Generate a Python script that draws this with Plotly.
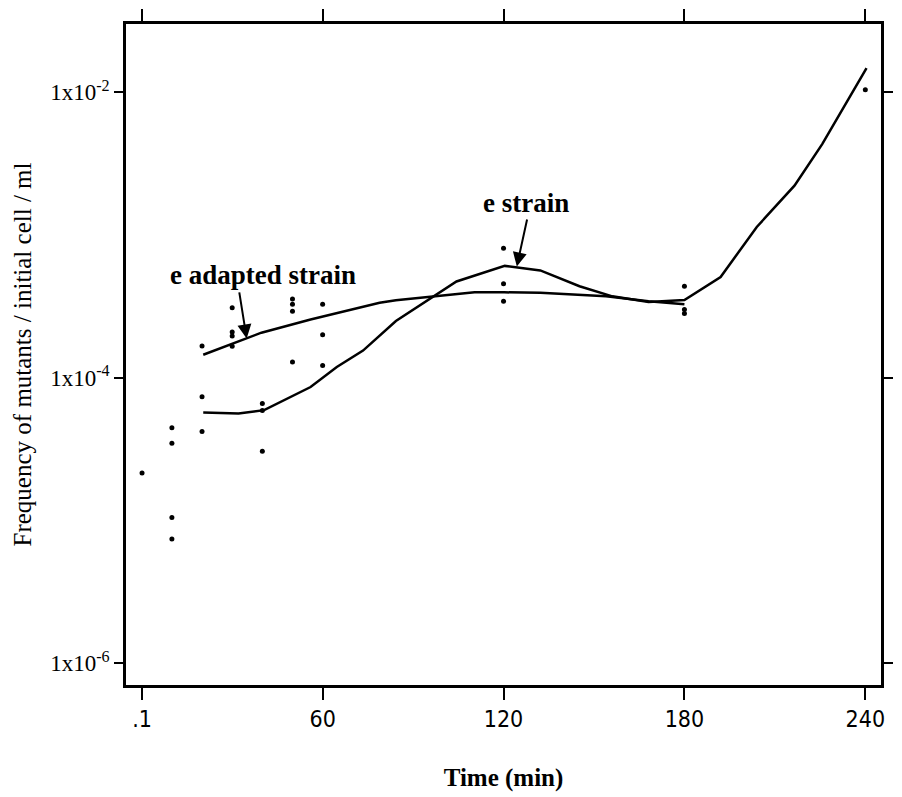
import plotly.graph_objects as go

# ---- observed data points (time in min, frequency of mutants) ----
pt_time = [0.1, 10, 10, 10, 10, 20, 20, 20, 30, 30, 30, 30, 40, 40, 40,
           50, 50, 50, 50, 60, 60, 60, 120, 120, 120, 180, 180, 180, 240]
pt_freq = [2.15e-5, 4.47e-5, 3.48e-5, 1.05e-5, 7.4e-6,
           1.67e-4, 7.35e-5, 4.2e-5,
           3.10e-4, 2.09e-4, 1.96e-4, 1.66e-4,
           6.6e-5, 5.9e-5, 3.05e-5,
           3.57e-4, 3.27e-4, 2.92e-4, 1.29e-4,
           3.28e-4, 2.0e-4, 1.22e-4,
           8.07e-4, 4.56e-4, 3.44e-4,
           4.38e-4, 3.01e-4, 2.82e-4,
           1.045e-2]

# ---- smoothed curve: e strain ----
e_time = [20.4, 32.1, 40.6, 56, 64.7, 73.4, 84.3, 104.4, 120.4, 132.2, 145.2,
          156.1, 168.1, 180.0, 192.0, 204.0, 216.5, 225.7, 240.4]
e_freq = [5.71e-5, 5.62e-5, 5.93e-5, 8.61e-5, 1.19e-4, 1.55e-4, 2.50e-4,
          4.73e-4, 6.08e-4, 5.65e-4, 4.38e-4, 3.72e-4, 3.39e-4, 3.50e-4,
          5.08e-4, 1.14e-3, 2.22e-3, 4.34e-3, 1.48e-2]

# ---- smoothed curve: e adapted strain ----
ea_time = [20.4, 39.7, 56, 68, 78.9, 84.3, 96.3, 110.4, 120.2, 132.2, 154,
           168.1, 180.0]
ea_freq = [1.45e-4, 2.07e-4, 2.56e-4, 2.93e-4, 3.35e-4, 3.49e-4, 3.72e-4,
           3.97e-4, 3.97e-4, 3.94e-4, 3.72e-4, 3.44e-4, 3.27e-4]

x_tickvals = [0.1, 60, 120, 180, 240]
x_ticktext = [".1", "60", "120", "180", "240"]
y_tickvals = [1e-6, 1e-4, 1e-2]
y_ticktext = ["1x10<sup>-6</sup>", "1x10<sup>-4</sup>", "1x10<sup>-2</sup>"]

SERIF = "Liberation Serif, Times New Roman, serif"
NARROW = "Liberation Sans Narrow, DejaVu Sans Condensed, Liberation Sans, sans-serif"

fig = go.Figure()
fig.add_trace(go.Scatter(x=ea_time, y=ea_freq, mode="lines",
                         line=dict(color="black", width=2.5), showlegend=False))
fig.add_trace(go.Scatter(x=e_time, y=e_freq, mode="lines",
                         line=dict(color="black", width=2.5), showlegend=False))
fig.add_trace(go.Scatter(x=pt_time, y=pt_freq, mode="markers",
                         marker=dict(color="black", size=5), showlegend=False))

fig.update_layout(
    width=902, height=797,
    margin=dict(l=126, r=9, t=23, b=108),
    paper_bgcolor="white", plot_bgcolor="white",
    font=dict(family=SERIF, color="black", size=25),
    xaxis=dict(range=[-5.22, 245.2], tickvals=x_tickvals, ticktext=x_ticktext,
               ticks="outside", ticklen=12, tickwidth=2, tickcolor="black",
               showline=True, linewidth=2.5, linecolor="black", mirror="ticks",
               showgrid=False, zeroline=False,
               tickfont=dict(family=NARROW, size=23),
               title=dict(text="<b>Time (min)</b>", font=dict(family=SERIF, size=25),
                          standoff=38)),
    yaxis=dict(type="log", range=[-6.153, -1.521], tickvals=y_tickvals,
               ticktext=y_ticktext,
               ticks="outside", ticklen=9, tickwidth=2, tickcolor="black",
               showline=True, linewidth=2.5, linecolor="black", mirror="ticks",
               showgrid=False, zeroline=False,
               tickfont=dict(family=SERIF, size=23),
               title=dict(text="Frequency of mutants / initial cell / ml",
                          font=dict(family=SERIF, size=25), standoff=12)),
    annotations=[
        dict(x=40.2, y=-3.281, xref="x", yref="y", text="<b>e adapted strain</b>",
             showarrow=False, font=dict(family=SERIF, size=27),
             xanchor="center", yanchor="middle"),
        dict(x=127.6, y=-2.775, xref="x", yref="y", text="<b>e strain</b>",
             showarrow=False, font=dict(family=SERIF, size=27),
             xanchor="center", yanchor="middle"),
        dict(x=34.8, y=-3.725, xref="x", yref="y", text="", showarrow=True,
             ax=-7.6, ay=-47.6, arrowhead=2, arrowsize=1.4, arrowwidth=2,
             arrowcolor="black"),
        dict(x=124.4, y=-3.220, xref="x", yref="y", text="", showarrow=True,
             ax=10.6, ay=-48.4, arrowhead=2, arrowsize=1.4, arrowwidth=2,
             arrowcolor="black"),
    ],
)

fig.write_html("out.html")
